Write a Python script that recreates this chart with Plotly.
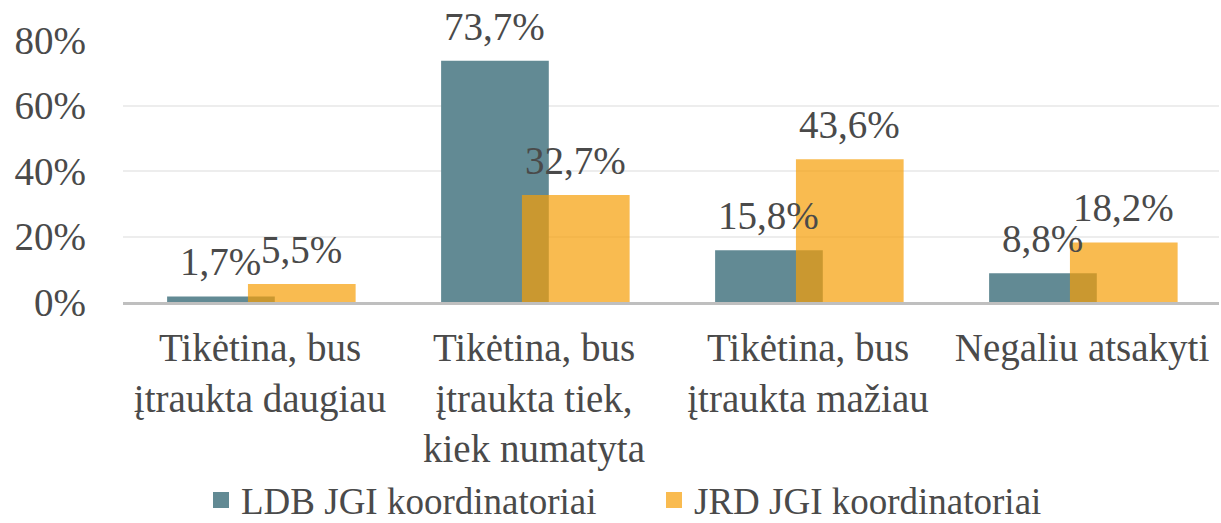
import plotly.graph_objects as go

categories = ["Tikėtina, bus<br>įtraukta daugiau",
              "Tikėtina, bus<br>įtraukta tiek,<br>kiek numatyta",
              "Tikėtina, bus<br>įtraukta mažiau",
              "Negaliu atsakyti"]
ldb_values = [1.7, 73.7, 15.8, 8.8]
jrd_values = [5.5, 32.7, 43.6, 18.2]
series_names = ["LDB JGI koordinatoriai", "JRD JGI koordinatoriai"]
y_ticks = [0, 20, 40, 60, 80]

FONT = "Liberation Serif"
TXT = "#4a4a4a"
TEAL = "#628A94"
GOLD = "rgba(246,158,5,0.7)"

BAR_W = 0.393
OFFS = [-0.339, -0.044]

def lab(v):
    return [f"{x:.1f}".replace(".", ",") + "%" for x in v]

xpos = list(range(len(categories)))

fig = go.Figure()
for vals, name, color, off in [(ldb_values, series_names[0], TEAL, OFFS[0]),
                               (jrd_values, series_names[1], GOLD, OFFS[1])]:
    fig.add_trace(go.Bar(
        x=xpos, y=vals, name=name, showlegend=False,
        marker=dict(color=color, line=dict(width=0)),
        width=BAR_W, offset=off, hoverinfo="y",
    ))
    for xi, v, t in zip(xpos, vals, lab(vals)):
        fig.add_annotation(x=xi + off + BAR_W / 2, y=v, xref="x", yref="y",
                           text=t, showarrow=False, yanchor="bottom",
                           xanchor="center", yshift=11,
                           font=dict(family=FONT, size=39, color=TXT))

# legend entries
fig.add_trace(go.Scatter(x=[None], y=[None], mode="markers", name=series_names[0],
                         marker=dict(symbol="square", size=19, color=TEAL),
                         legend="legend"))
fig.add_trace(go.Scatter(x=[None], y=[None], mode="markers", name=series_names[1],
                         marker=dict(symbol="square", size=19, color="#F9BB50"),
                         legend="legend2"))

leg_common = dict(orientation="h", xref="container", yref="container",
                  xanchor="left", yanchor="middle", y=0.043,
                  bgcolor="rgba(0,0,0,0)",
                  font=dict(family=FONT, size=37, color=TXT))
fig.update_layout(
    barmode="overlay",
    width=1221, height=523,
    margin=dict(l=123, r=2, t=40, b=221, autoexpand=False),
    paper_bgcolor="white", plot_bgcolor="white",
    font=dict(family=FONT, size=39, color=TXT),
    legend=dict(x=201/1221, **leg_common),
    legend2=dict(x=654/1221, **leg_common),
    showlegend=True,
)
fig.update_yaxes(range=[0, 80], tickvals=y_ticks, ticktext=[f"{t}%" for t in y_ticks],
                 showgrid=True, gridcolor="#EDEDED", gridwidth=1.5,
                 zeroline=False, showline=False, ticks="",
                 ticklabelstandoff=36,
                 tickfont=dict(family=FONT, size=39, color=TXT))
fig.update_xaxes(range=[-0.5, len(categories) - 0.5], tickvals=xpos, ticktext=categories,
                 showline=True, linecolor="#BFBFBF", linewidth=3, showgrid=False,
                 ticks="", tickangle=0, ticklabelstandoff=9,
                 tickfont=dict(family=FONT, size=39, color=TXT))

fig.write_html("out.html", config={"displayModeBar": False},
               post_script="document.body.style.margin='0';document.body.style.padding='0';")
